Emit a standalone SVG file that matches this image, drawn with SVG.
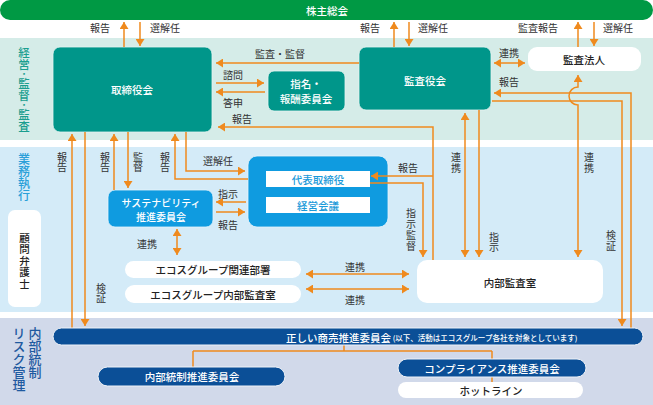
<svg xmlns="http://www.w3.org/2000/svg" width="653" height="405" viewBox="0 0 653 405">
<style>
text{font-family:"Noto Sans CJK JP","Noto Sans",sans-serif;dominant-baseline:central;text-anchor:middle}
.vt{writing-mode:vertical-rl;text-anchor:start}
.lb{font-size:10px;fill:#333}
.wt{font-size:10.5px;fill:#fff;font-weight:500}
.dk{font-size:10.5px;fill:#222;font-weight:500}
.bl{font-size:10.5px;fill:#1b9ad9;font-weight:500}
.ln{fill:none;stroke:#ef8a1e;stroke-width:1.5}
.a{marker-end:url(#ah)}
.aa{marker-end:url(#ah);marker-start:url(#ah)}
.teal{fill:#00968a;stroke:#e6f4f1;stroke-width:0.8}
.blue{fill:#0f9be0;stroke:#e6f4fb;stroke-width:0.8}
.navy{fill:#0b4f97;stroke:#eef2f8;stroke-width:1}
.wh{fill:#fff}
</style>
<defs>
<marker id="ah" viewBox="0 0 7 9" refX="7" refY="4.5" markerWidth="7" markerHeight="9" markerUnits="userSpaceOnUse" orient="auto-start-reverse">
<path d="M0,0 L7,4.5 L0,9 z" fill="#ef8a1e"/>
</marker>
</defs>

<g id="bands">
<rect x="0" y="38" width="653" height="102" fill="#d5ece8"/>
<rect x="0" y="147" width="653" height="165" fill="#d4ebf8"/>
<rect x="0" y="318" width="653" height="87" fill="#d1d9ea"/>
</g>

<g id="band-labels">
<text class="vt" x="24" y="47" style="font-size:11.5px;fill:#1a9e8f;font-weight:500">経営<tspan style="font-size:8px">・</tspan>監督<tspan style="font-size:8px">・</tspan>監査</text>
<text class="vt" x="24" y="153" style="font-size:12px;fill:#2a9fd8;font-weight:500">業務執行</text>
<text class="vt" x="35" y="327" style="font-size:13px;fill:#1f5aa0;font-weight:500">内部統制</text>
<text class="vt" x="19" y="327" style="font-size:13px;fill:#1f5aa0;font-weight:500">リスク管理</text>
</g>

<g id="shareholders">
<rect x="0" y="0" width="653" height="20" rx="10" fill="#009944"/>
<text x="327" y="10.5" class="wt">株主総会</text>
</g>

<g id="board">
<rect x="53" y="47" width="159" height="85" rx="7" class="teal"/>
<text x="132" y="89" class="wt">取締役会</text>
</g>

<g id="nomination">
<rect x="268" y="71" width="77" height="40" rx="6" class="teal"/>
<text x="306" y="83" class="wt">指名・</text>
<text x="306" y="98" class="wt">報酬委員会</text>
</g>

<g id="auditboard">
<rect x="359" y="47" width="132" height="63" rx="7" class="teal"/>
<text x="425" y="80" class="wt">監査役会</text>
</g>

<g id="auditor">
<rect x="528" y="47" width="113" height="24" rx="9" class="wh"/>
<text x="584" y="59" class="dk">監査法人</text>
</g>

<g id="advisor">
<rect x="8" y="210" width="33" height="97" rx="7" class="wh"/>
<text class="dk vt" x="24.5" y="232.5" style="font-size:10.5px;letter-spacing:1px">顧問弁護士</text>
</g>

<g id="management">
<rect x="248" y="156" width="140" height="71" rx="9" class="blue"/>
<rect x="266" y="171" width="104" height="16" fill="#fff"/>
<text x="318" y="179" class="bl">代表取締役</text>
<rect x="266" y="197" width="104" height="16" fill="#fff"/>
<text x="318" y="205" class="bl">経営会議</text>
</g>

<g id="sustainability">
<rect x="108" y="190" width="105" height="37" rx="7" class="blue"/>
<text x="161" y="202" class="wt" style="font-size:10px">サステナビリティ</text>
<text x="161" y="216" class="wt" style="font-size:10px">推進委員会</text>
</g>

<g id="related">
<rect x="125" y="261" width="176" height="17" rx="8.5" class="wh"/>
<text x="213" y="269.5" class="dk">エコスグループ関連部署</text>
</g>

<g id="groupaudit">
<rect x="125" y="285" width="176" height="18" rx="9" class="wh"/>
<text x="213" y="294" class="dk">エコスグループ内部監査室</text>
</g>

<g id="internalaudit">
<rect x="417" y="260" width="186" height="43" rx="10" class="wh"/>
<text x="510" y="282" class="dk">内部監査室</text>
</g>

<g id="connectors">
<path class="ln a" d="M124,47 V22"/>
<path class="ln a" d="M140,22 V46"/>
<path class="ln a" d="M394,47 V22"/>
<path class="ln a" d="M409,22 V46"/>
<path class="ln a" d="M578,47 V22"/>
<path class="ln a" d="M594,22 V46"/>
<path class="ln aa" d="M494,63 H525"/>
<path class="ln a" d="M359,63 H216"/>
<path class="ln a" d="M216,83 H264"/>
<path class="ln a" d="M265,92 H216"/>
<path class="ln a" d="M433,260 V127 H218"/>
<path class="ln a" d="M433,176 H371"/>
<path class="ln a" d="M370,183 H423 V257"/>
<path class="ln aa" d="M465,113 V257"/>
<path class="ln a" d="M479,110 V257"/>
<path class="ln aa" d="M578,257 V105 A9,9 0 0 1 578,87 V75"/>
<path class="ln a" d="M492,101 H622 V326"/>
<path class="ln a" d="M631,328 V93 H494"/>
<path class="ln a" d="M186,132 V171 H245"/>
<path class="ln a" d="M248,179 H175 V134"/>
<path class="ln a" d="M114,190 V134"/>
<path class="ln a" d="M128,132 V188"/>
<path class="ln a" d="M246,202 H216"/>
<path class="ln a" d="M216,212 H245"/>
<path class="ln aa" d="M177,229 V255"/>
<path class="ln aa" d="M306,274 H409"/>
<path class="ln aa" d="M306,289 H409"/>
<path class="ln a" d="M72,328 V134"/>
<path class="ln a" d="M85,132 V326"/>
<path class="ln" d="M344,345 V351 M193,351 H492 M193,351 V367 M492,351 V359 M492,377 V382"/>
</g>

<g id="labels">
<text x="100" y="27" class="lb">報告</text>
<text x="165" y="27" class="lb">選解任</text>
<text x="370" y="27" class="lb">報告</text>
<text x="433" y="27" class="lb">選解任</text>
<text x="538" y="27" class="lb">監査報告</text>
<text x="618" y="27" class="lb">選解任</text>
<text x="509" y="52" class="lb">連携</text>
<text x="509" y="81" class="lb">報告</text>
<text x="280" y="53" class="lb">監査・監督</text>
<text x="233" y="74" class="lb">諮問</text>
<text x="233" y="102" class="lb">答申</text>
<text x="242" y="118" class="lb">報告</text>
<text x="218" y="160" class="lb">選解任</text>
<text x="228" y="193" class="lb">指示</text>
<text x="228" y="224" class="lb">報告</text>
<text x="408" y="167" class="lb">報告</text>
<text x="147" y="243" class="lb">連携</text>
<text x="355" y="266" class="lb">連携</text>
<text x="355" y="299" class="lb">連携</text>
<text class="lb vt" x="62" y="152" style="letter-spacing:0.5px">報告</text>
<text class="lb vt" x="105" y="152" style="letter-spacing:0.5px">報告</text>
<text class="lb vt" x="138" y="152" style="letter-spacing:0.5px">監督</text>
<text class="lb vt" x="165" y="152" style="letter-spacing:0.5px">報告</text>
<text class="lb vt" x="456" y="152" style="letter-spacing:1px">連携</text>
<text class="lb vt" x="589" y="152" style="letter-spacing:1px">連携</text>
<text class="lb vt" x="494" y="232" style="letter-spacing:0.5px">指示</text>
<text class="lb vt" x="411" y="208" style="letter-spacing:1px">指示監督</text>
<text class="lb vt" x="611" y="230" style="letter-spacing:1px">検証</text>
<text class="lb vt" x="101" y="283" style="letter-spacing:0.5px">検証</text>
</g>

<g id="fairtrade">
<rect x="53" y="328" width="590" height="17" rx="8.5" class="navy"/>
<text x="286" y="337" class="wt" style="text-anchor:start;font-size:10.5px">正しい商売推進委員会<tspan style="font-size:7.5px"> (以下、活動はエコスグループ各社を対象としています)</tspan></text>
</g>

<g id="internalcontrol">
<rect x="98" y="367" width="187" height="19" rx="9.5" class="navy"/>
<text x="192" y="376.5" class="wt">内部統制推進委員会</text>
</g>

<g id="compliance">
<rect x="398" y="359" width="188" height="18" rx="9" class="navy"/>
<text x="492" y="368" class="wt">コンプライアンス推進委員会</text>
</g>

<g id="hotline">
<rect x="398" y="382" width="185" height="16" rx="8" class="wh"/>
<text x="491" y="390" class="dk">ホットライン</text>
</g>
</svg>
